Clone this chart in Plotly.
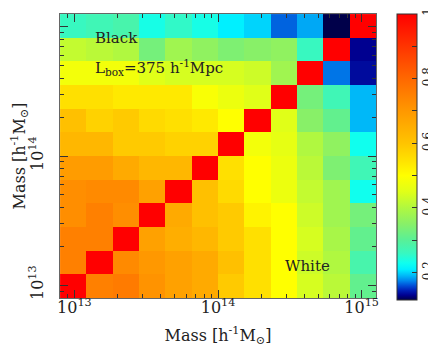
import numpy as np
import plotly.graph_objects as go

# log10 mass bin centres (same bins on both axes)
log_mass = [12.992, 13.175, 13.358, 13.542, 13.725, 13.908,
            14.092, 14.275, 14.458, 14.642, 14.825, 15.008]

# cross-correlation matrix, rows = y bins (bottom -> top), cols = x bins
corr = [
    [1.00, 0.75, 0.76, 0.71, 0.68, 0.66, 0.59, 0.55, 0.50, 0.44, 0.41, 0.31],
    [0.75, 1.00, 0.73, 0.70, 0.68, 0.66, 0.61, 0.55, 0.50, 0.43, 0.40, 0.28],
    [0.75, 0.75, 1.00, 0.68, 0.65, 0.63, 0.59, 0.55, 0.50, 0.44, 0.39, 0.31],
    [0.72, 0.75, 0.72, 1.00, 0.66, 0.61, 0.59, 0.52, 0.50, 0.43, 0.38, 0.33],
    [0.72, 0.73, 0.73, 0.68, 1.00, 0.61, 0.56, 0.50, 0.47, 0.42, 0.38, 0.23],
    [0.69, 0.69, 0.66, 0.63, 0.63, 1.00, 0.55, 0.50, 0.47, 0.41, 0.34, 0.27],
    [0.63, 0.63, 0.59, 0.59, 0.575, 0.575, 1.00, 0.48, 0.46, 0.40, 0.36, 0.23],
    [0.61, 0.575, 0.59, 0.56, 0.55, 0.535, 0.50, 1.00, 0.45, 0.35, 0.31, 0.19],
    [0.55, 0.55, 0.535, 0.535, 0.535, 0.49, 0.47, 0.45, 1.00, 0.33, 0.27, 0.19],
    [0.48, 0.48, 0.48, 0.45, 0.44, 0.44, 0.44, 0.43, 0.38, 1.00, 0.17, 0.135],
    [0.42, 0.41, 0.40, 0.33, 0.38, 0.36, 0.34, 0.35, 0.36, 0.26, 1.00, 0.13],
    [0.26, 0.27, 0.28, 0.235, 0.255, 0.235, 0.21, 0.20, 0.165, 0.185, 0.115, 1.00],
]

major_ticks = [13, 14, 15]
major_text = ["10<sup>13</sup>", "10<sup>14</sup>", "10<sup>15</sup>"]
minor_ticks = [np.log10(k * 10.0 ** d) for d in (12, 13, 14) for k in range(2, 10)]

cb_ticks = [0.2, 0.3, 0.4, 0.5, 0.6, 0.7, 0.8, 0.9, 1.0]
cb_text = ["0.2", "", "0.4", "", "0.6", "", "0.8", "", "1"]

zmin, zmax = 0.115, 1.0
stops = [
    (0.115, "#00004a"), (0.13, "#000090"), (0.145, "#0020b8"), (0.16, "#0050d8"),
    (0.175, "#0088ee"), (0.19, "#00b8f8"), (0.21, "#00f0ff"), (0.23, "#10ffee"),
    (0.26, "#38f8c0"), (0.30, "#58f098"), (0.35, "#88f068"), (0.40, "#b0f840"),
    (0.45, "#e0ff18"), (0.50, "#ffff00"), (0.55, "#ffe000"), (0.60, "#ffc400"),
    (0.70, "#ff9800"), (0.80, "#ff6800"), (0.90, "#ff3400"), (1.00, "#ff0000"),
]
cscale = [[(v - zmin) / (zmax - zmin), c] for v, c in stops]

font = "DejaVu Serif"

fig = go.Figure()
fig.add_trace(go.Heatmap(
    x=log_mass, y=log_mass, z=corr,
    zmin=zmin, zmax=zmax, colorscale=cscale,
    colorbar=dict(
        x=1.066, xanchor="left", xpad=0, y=0.497, yanchor="middle", ypad=0,
        len=1.007, thickness=20, outlinewidth=1, outlinecolor="#333",
        tickmode="array", tickvals=cb_ticks, ticktext=cb_text,
        ticks="inside", ticklen=5, tickcolor="#333", tickangle=-90,
        tickfont=dict(family=font, size=12, color="#222"),
    ),
))

axis_common = dict(
    showgrid=False, zeroline=False, automargin=False,
    range=[12.9, 15.1],
    tickmode="array", tickvals=major_ticks, ticktext=major_text,
    ticks="inside", ticklen=8, tickcolor="#333", tickwidth=1,
    minor=dict(tickmode="array", tickvals=minor_ticks, ticks="inside",
               ticklen=4, tickcolor="#333"),
    showline=True, linecolor="#666", linewidth=1, mirror="ticks",
    tickfont=dict(family=font, size=16, color="#222"),
)

fig.update_xaxes(**axis_common,
                 title=dict(text="Mass [h<sup>-1</sup>M<sub>⊙</sub>]",
                            font=dict(family=font, size=16, color="#222"),
                            standoff=13))
fig.update_yaxes(**axis_common, tickangle=-90,
                 title=dict(text="Mass [h<sup>-1</sup>M<sub>⊙</sub>]",
                            font=dict(family=font, size=16, color="#222"),
                            standoff=8))

# pull the tick labels closer to / further from the frame like the original
try:
    fig.update_xaxes(ticklabelstandoff=-5)
except ValueError:
    pass
try:
    fig.update_yaxes(ticklabelstandoff=10)
except ValueError:
    pass

notes = [
    ("Black", 0.104, 0.915),
    ("L<sub>box</sub>=375 h<sup>-1</sup>Mpc", 0.104, 0.813),
    ("White", 0.706, 0.114),
]
for txt, ax_, ay_ in notes:
    fig.add_annotation(text=txt, x=ax_, y=ay_, xref="paper", yref="paper",
                       xanchor="left", yanchor="middle", showarrow=False,
                       font=dict(family=font, size=15, color="#222"))

fig.update_layout(
    width=436, height=349,
    margin=dict(l=52, r=68, t=6, b=59, autoexpand=False),
    paper_bgcolor="white", plot_bgcolor="white",
)

fig.write_html("out.html")
